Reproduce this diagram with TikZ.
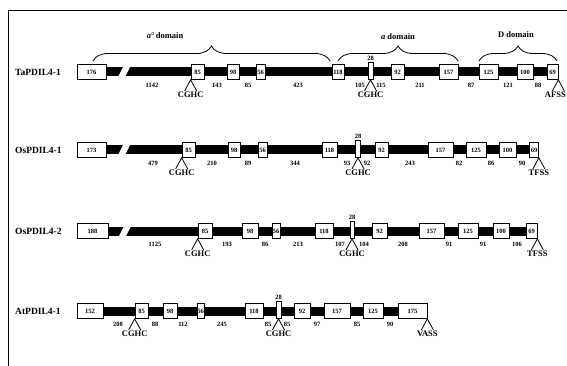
\documentclass[tikz,border=0pt]{standalone}
\usepackage{fontspec}
\setmainfont{Liberation Serif}
\usetikzlibrary{positioning,decorations.pathreplacing,backgrounds}
\begin{document}
\begin{tikzpicture}[x=1pt,y=-1pt,
exon/.style={draw, fill=white, line width=0.7pt, inner sep=0pt, minimum height=15pt, font=\fontsize{6.5}{7}\bfseries},
intron/.style={line width=9pt},
len/.style={font=\fontsize{6.5}{7}\bfseries, inner sep=0pt},
motif/.style={font=\fontsize{8.5}{9}\bfseries, inner sep=0.5pt},
leg/.style={line width=0.8pt},
gene/.style={font=\fontsize{9.5}{10}\bfseries, anchor=west, inner sep=0pt},
dom/.style={decorate, decoration={brace, amplitude=15pt}, line width=0.8pt},
domname/.style={font=\fontsize{8.5}{9}\bfseries}]
\useasboundingbox (0,0) rectangle (567,366);
\draw [line width=1.5pt] (8.5,366) -- (8.5,10.5) -- (567,10.5);

% domains
\draw [dom] (93,61) -- (330,61);
\draw [dom] (338,61) -- (458,61);
\draw [dom] (479,61) -- (557,61);
\node [domname] (da0) at (165,36) {\textit{a}°\,domain};
\node [domname] (da) at (398,37) {\textit{a} domain};
\node [domname] (dd) at (516,35) {D domain};

% TaPDIL4-1
\node [gene] (ta) at (15,72) {TaPDIL4-1};
\foreach \n/\x/\w/\t in {1/91.5/29/176, 2/197.5/13/85, 3/233/12/98, 4/260.5/9/56, 5/338/12/118,
7/397.5/13/92, 8/448.5/19/157, 9/488.5/19/125, 10/525/16/100, 11/552.5/11/69}{
\node [exon, minimum width=\w] (ta\n) at (\x,72) {\t};
}
\node [exon, minimum width=5, minimum height=17, label={[len, inner sep=1pt]above:28}] (ta6) at (370.5,71) {};
\begin{scope}[on background layer]
\draw [intron] (ta1.center) -- (ta11.center);
\end{scope}
\fill [white] (118,77) -- (123,67) -- (130,67) -- (125,77) -- cycle;
\foreach \x/\t in {152/1142, 217/143, 248/85, 298/423, 360/105, 381/115, 420/211, 471/87, 508/121, 538/88}{
\node [len] (tal\x) at (\x,85) {\t};
}
\node [motif, below=11pt of ta2.south west] (tam1) {CGHC};
\draw [leg] ([xshift=-6]tam1.north) -- (ta2.south west) -- ([xshift=6]tam1.north);
\node [motif, below=11pt of ta6.south] (tam2) {CGHC};
\draw [leg] ([xshift=-6]tam2.north) -- (ta6.south) -- ([xshift=6]tam2.north);
\node [motif, below=11pt of ta11.south east, xshift=-3pt] (tam3) {AFSS};
\draw [leg] ([xshift=-3]tam3.north) -- (ta11.south east) -- ([xshift=9]tam3.north);

% OsPDIL4-1
\node [gene] (osa) at (15,150) {OsPDIL4-1};
\foreach \n/\x/\w/\t in {1/91.5/29/173, 2/188.5/13/85, 3/234/12/98, 4/262.5/9/56, 5/329.5/15/118,
7/381.5/13/92, 8/440.5/25/157, 9/476/20/125, 10/507.5/17/100, 11/534/9/69}{
\node [exon, minimum width=\w] (osa\n) at (\x,150) {\t};
}
\node [exon, minimum width=5, minimum height=17, label={[len, inner sep=1pt]above:28}] (osa6) at (358,149) {};
\begin{scope}[on background layer]
\draw [intron] (osa1.center) -- (osa11.center);
\end{scope}
\fill [white] (118,155) -- (123,145) -- (130,145) -- (125,155) -- cycle;
\foreach \x/\t in {153/479, 212/210, 248/89, 295/344, 347/93, 367/92, 410/243, 459/82, 491/86, 522/90}{
\node [len] (osal\x) at (\x,163) {\t};
}
\node [motif, below=11pt of osa2.south west] (osam1) {CGHC};
\draw [leg] ([xshift=-6]osam1.north) -- (osa2.south west) -- ([xshift=6]osam1.north);
\node [motif, below=11pt of osa6.south] (osam2) {CGHC};
\draw [leg] ([xshift=-6]osam2.north) -- (osa6.south) -- ([xshift=6]osam2.north);
\node [motif, below=11pt of osa11.south east] (osam3) {TFSS};
\draw [leg] ([xshift=-6]osam3.north) -- (osa11.south east) -- ([xshift=6]osam3.north);

% OsPDIL4-2
\node [gene] (osb) at (15,231) {OsPDIL4-2};
\foreach \n/\x/\w/\t in {1/92.5/31/188, 2/205/14/85, 3/250/16/98, 4/276/8/56, 5/324/18/118,
7/379.5/15/92, 8/431.5/25/157, 9/468/20/125, 10/501/16/100, 11/531.5/11/69}{
\node [exon, minimum width=\w] (osb\n) at (\x,231) {\t};
}
\node [exon, minimum width=4, minimum height=17, label={[len, inner sep=1pt]above:28}] (osb6) at (352,230) {};
\begin{scope}[on background layer]
\draw [intron] (osb1.center) -- (osb11.center);
\end{scope}
\fill [white] (119,236) -- (124,226) -- (131,226) -- (126,236) -- cycle;
\foreach \x/\t in {155/1125, 227/193, 265/86, 298/213, 340/107, 364/104, 403/208, 449/91, 483/91, 517/106}{
\node [len] (osbl\x) at (\x,244) {\t};
}
\node [motif, below=11pt of osb2.south west] (osbm1) {CGHC};
\draw [leg] ([xshift=-6]osbm1.north) -- (osb2.south west) -- ([xshift=6]osbm1.north);
\node [motif, below=11pt of osb6.south] (osbm2) {CGHC};
\draw [leg] ([xshift=-6]osbm2.north) -- (osb6.south) -- ([xshift=6]osbm2.north);
\node [motif, below=11pt of osb11.south east] (osbm3) {TFSS};
\draw [leg] ([xshift=-6]osbm3.north) -- (osb11.south east) -- ([xshift=6]osbm3.north);

% AtPDIL4-1
\node [gene] (ath) at (15,311) {AtPDIL4-1};
\foreach \n/\x/\w/\t in {1/90/26/152, 2/141.5/13/85, 3/170/14/98, 4/200.5/7/56, 5/254/18/118,
7/302/16/92, 8/337/26/157, 9/373/20/125, 10/412.5/29/175}{
\node [exon, minimum width=\w] (ath\n) at (\x,311) {\t};
}
\node [exon, minimum width=5, minimum height=17, label={[len, inner sep=1pt]above:28}] (ath6) at (278.5,310) {};
\begin{scope}[on background layer]
\draw [intron] (ath1.center) -- (ath10.center);
\end{scope}
\foreach \x/\t in {118/208, 155/88, 183/112, 222/245, 268/85, 287/85, 317/97, 357/85, 390/90}{
\node [len] (athl\x) at (\x,324) {\t};
}
\node [motif, below=11pt of ath2.south west] (athm1) {CGHC};
\draw [leg] ([xshift=-6]athm1.north) -- (ath2.south west) -- ([xshift=6]athm1.north);
\node [motif, below=11pt of ath6.south] (athm2) {CGHC};
\draw [leg] ([xshift=-6]athm2.north) -- (ath6.south) -- ([xshift=6]athm2.north);
\node [motif, below=11pt of ath10.south east] (athm3) {VASS};
\draw [leg] ([xshift=-6]athm3.north) -- (ath10.south east) -- ([xshift=6]athm3.north);
\end{tikzpicture}
\end{document}
